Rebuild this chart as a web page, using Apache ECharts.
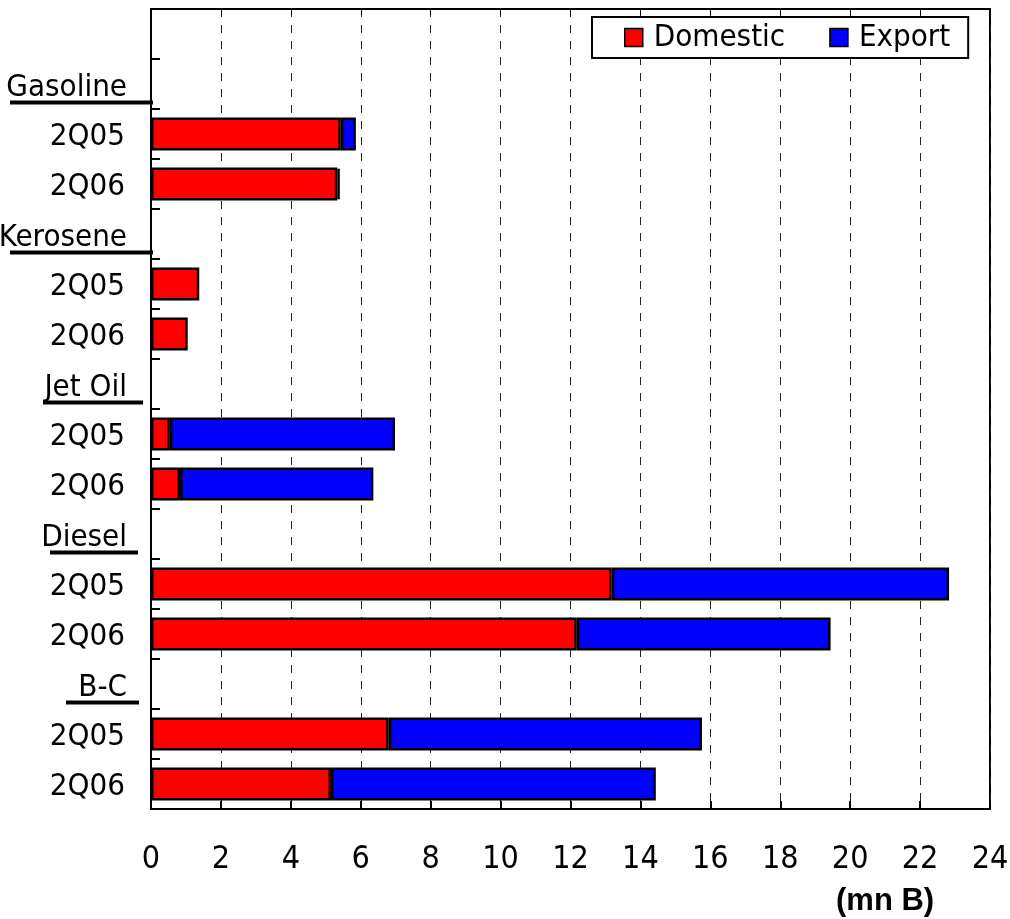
<!DOCTYPE html>
<html>
<head>
<meta charset="utf-8">
<script src="https://cdn.jsdelivr.net/npm/echarts@6/dist/echarts.min.js"></script>
<style>
  html, body { margin: 0; padding: 0; background: #fff; }
  #chart { width: 1010px; height: 919px; }
</style>
</head>
<body>
<div id="chart"></div>
<script>
// Product rows, top to bottom; product names act as group headers.
const categories = ['', 'Gasoline', '2Q05', '2Q06', 'Kerosene', '2Q05', '2Q06', 'Jet Oil', '2Q05', '2Q06',
  'Diesel', '2Q05', '2Q06', 'B-C', '2Q05', '2Q06'];
const headers = ['Gasoline', 'Kerosene', 'Jet Oil', 'Diesel', 'B-C'];
const domestic = [null, null, 5.43, 5.33, null, 1.38, 1.05, null, 0.54, 0.83, null, 13.18, 12.18, null, 6.80, 5.15];
const exportVol = [null, null, 0.43, 0.07, null, null, null, null, 6.44, 5.53, null, 9.65, 7.26, null, 8.96, 9.29];
const xTicks = { min: 0, max: 24, step: 2 };
const unitLabel = '(mn B)';

const FONT = "'Liberation Sans Narrow', 'DejaVu Sans Condensed', 'Liberation Sans', sans-serif";

// Underline length and its distance from the axis for each group header.
const rule = {
  'Gasoline': { len: 143, gap: 0 },
  'Kerosene': { len: 143, gap: 0 },
  'Jet Oil':  { len: 100, gap: 10 },
  'Diesel':   { len: 88,  gap: 15 },
  'B-C':      { len: 73,  gap: 14 }
};

const rich = {
  n: { fontSize: 31, fontFamily: FONT, color: '#000', height: 26, padding: [5, 28, 0, 0] },
  h: { fontSize: 31, fontFamily: FONT, color: '#000', height: 26, padding: [11, 26, 0, 0] }
};
headers.forEach((name, i) => {
  rich['u' + i] = { width: rule[name].len, height: 4, lineHeight: 4, backgroundColor: '#000' };
  rich['g' + i] = { width: rule[name].gap, height: 4, lineHeight: 4 };
});

function yLabel(value) {
  if (!value) return '';
  const hi = headers.indexOf(value);
  if (hi < 0) return '{n|' + value + '}';
  let s = '{h|' + value + '}\n{u' + hi + '|}';
  if (rule[value].gap > 0) s += '{g' + hi + '|}';
  return s;
}

const chart = echarts.init(document.getElementById('chart'), null, { renderer: 'canvas' });

chart.setOption({
  animation: false,
  backgroundColor: '#fff',
  title: {
    text: unitLabel,
    left: 836,
    top: 886,
    padding: 0,
    textStyle: { fontFamily: "'Liberation Sans', Arial, sans-serif", fontWeight: 'bold', fontSize: 31, color: '#000' }
  },
  legend: {
    data: ['Domestic', 'Export'],
    left: 592,
    top: 17,
    width: 400,
    orient: 'horizontal',
    backgroundColor: '#fff',
    borderColor: '#000',
    borderWidth: 2,
    borderRadius: 0,
    padding: [5, 18, 5, 32],
    itemWidth: 18,
    itemHeight: 18,
    itemGap: 44,
    icon: 'rect',
    itemStyle: { borderColor: '#000', borderWidth: 1.5 },
    textStyle: { fontFamily: FONT, fontSize: 31, color: '#000', padding: [0, 0, 0, 6] }
  },
  grid: {
    left: 151,
    right: 20,
    top: 9,
    bottom: 110,
    show: true,
    borderColor: '#000',
    borderWidth: 2,
    containLabel: false,
    outerBoundsMode: 'none'
  },
  xAxis: [
    {
      type: 'value',
      position: 'bottom',
      min: xTicks.min,
      max: xTicks.max,
      interval: xTicks.step,
      axisLine: { show: true, lineStyle: { color: '#000', width: 2 } },
      axisTick: { show: true, inside: true, length: 8, lineStyle: { color: '#000', width: 2 } },
      axisLabel: { margin: 35, fontFamily: FONT, fontSize: 32, color: '#000' },
      splitLine: { show: true, lineStyle: { color: '#222', width: 1, type: [8, 8] } }
    },
    {
      type: 'value',
      position: 'top',
      min: xTicks.min,
      max: xTicks.max,
      interval: xTicks.step,
      axisLine: { show: true, lineStyle: { color: '#000', width: 2 } },
      axisTick: { show: true, inside: true, length: 6, lineStyle: { color: '#000', width: 1 } },
      axisLabel: { show: false },
      splitLine: { show: false }
    }
  ],
  yAxis: {
    type: 'category',
    inverse: true,
    data: categories,
    boundaryGap: true,
    axisLine: { show: true, lineStyle: { color: '#000', width: 2 } },
    axisTick: { show: true, inside: true, length: 9, interval: 0, lineStyle: { color: '#000', width: 2 } },
    axisLabel: { interval: 0, margin: -2, formatter: yLabel, rich: rich, color: '#000' },
    splitLine: { show: false }
  },
  series: [
    {
      name: 'Domestic',
      type: 'bar',
      stack: 'vol',
      data: domestic,
      barWidth: '66%',
      itemStyle: { color: '#ff0000', borderColor: '#000', borderWidth: 2.5 }
    },
    {
      name: 'Export',
      type: 'bar',
      stack: 'vol',
      data: exportVol,
      barWidth: '66%',
      itemStyle: { color: '#0000ff', borderColor: '#000', borderWidth: 2.5 }
    }
  ]
});
</script>
</body>
</html>
